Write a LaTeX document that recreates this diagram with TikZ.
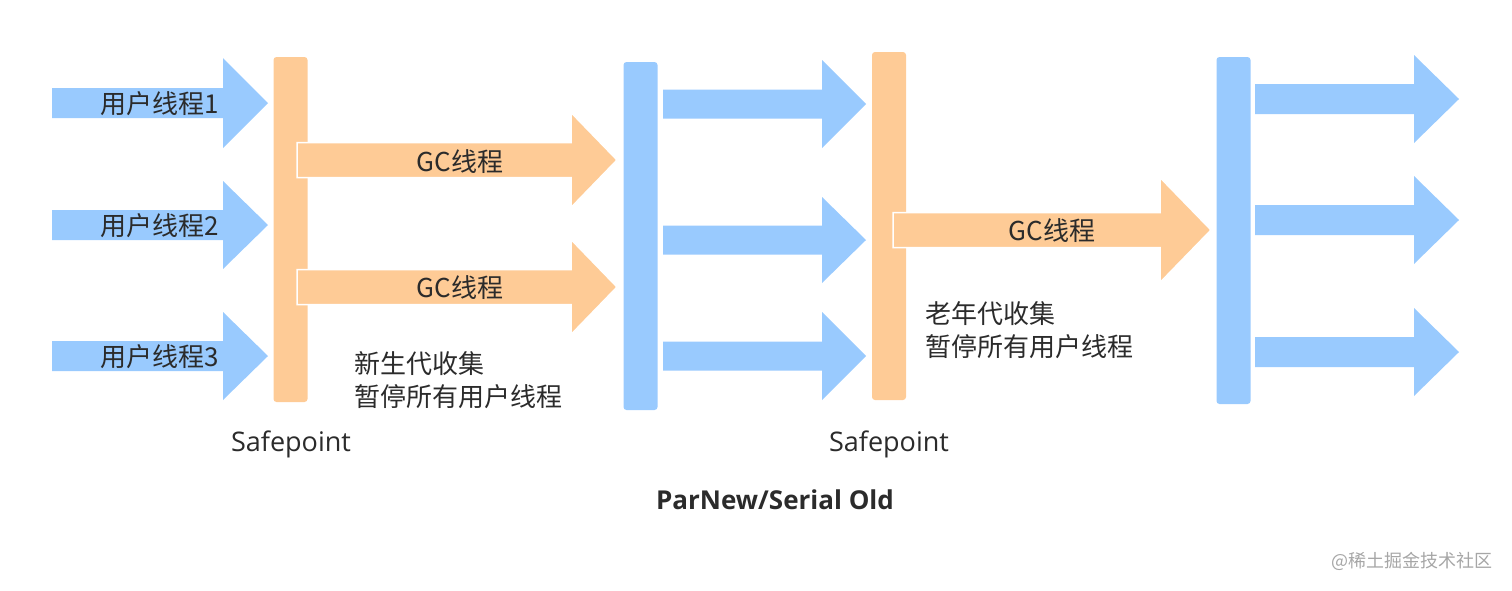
\documentclass[tikz,border=0pt]{standalone}
\usepackage{fontspec}
\setmainfont{Noto Sans CJK SC}
\newfontfamily\latinfont{Open Sans}
\usetikzlibrary{positioning}
\definecolor{tblue}{HTML}{99CAFE}
\definecolor{torange}{HTML}{FECB96}
\definecolor{tink}{HTML}{2B2B2B}
\definecolor{tmark}{HTML}{A6A6A6}
% fat arrow: colour, x start, x head base, x tip, y centre, shaft half, head half
\newcommand{\fatarrow}[7]{%
  \fill[#1] (#2,#5-#6) -- (#3,#5-#6) -- (#3,#5-#7) -- (#4,#5)
    -- (#3,#5+#7) -- (#3,#5+#6) -- (#2,#5+#6) -- cycle;}
\tikzset{
  bar/.style={fill=#1, draw=none, rounded corners=3pt, minimum width=34pt, inner sep=0pt},
  lbl/.style={font=\fontsize{26}{30}\selectfont, text=tink, inner sep=0pt},
  note/.style={font=\fontsize{26}{33}\selectfont, text=tink, align=left, inner sep=0pt, anchor=north west},
  sp/.style={font=\latinfont\fontsize{27}{30}\selectfont, text=tink, inner sep=0pt}
}
\begin{document}
\begin{tikzpicture}[x=1pt,y=-1pt]
  \useasboundingbox (0,0) rectangle (1512,590);
  % user threads before the first safepoint
  \fatarrow{tblue}{52}{223}{268}{103}{15}{45}
  \fatarrow{tblue}{52}{223}{268}{225}{15}{44}
  \fatarrow{tblue}{52}{223}{268}{356}{15}{44}
  \node[lbl,anchor=west] (u1) at (100,104) {用户线程1};
  \node[lbl,anchor=west] (u2) at (100,226) {用户线程2};
  \node[lbl,anchor=west] (u3) at (100,357) {用户线程3};
  % bars
  \node[bar=torange,minimum height=345pt] (sp1) at (290.5,229.5) {};
  \node[bar=tblue,minimum height=348pt] (gc1) at (640.5,236) {};
  \node[bar=torange,minimum height=348pt] (sp2) at (889,226) {};
  \node[bar=tblue,minimum height=347pt] (gc2) at (1233.5,230.5) {};
  % GC threads
  \begin{scope}[draw=white,line width=1.5pt]
    \fatarrow{torange,draw=white}{297}{571}{617}{160}{17.5}{47.5}
    \fatarrow{torange,draw=white}{297}{571}{617}{287}{17.5}{47.5}
    \fatarrow{torange,draw=white}{893}{1160}{1211}{230}{17.5}{52.5}
  \end{scope}
  \node[lbl] (g1) at (460,162) {GC线程};
  \node[lbl] (g2) at (460,288) {GC线程};
  \node[lbl] (g3) at (1052,231) {GC线程};
  % user threads between the collections
  \fatarrow{tblue}{663}{822}{866}{104}{14.5}{44}
  \fatarrow{tblue}{663}{822}{866}{240}{14.5}{43}
  \fatarrow{tblue}{663}{822}{866}{356}{14.5}{44}
  \fatarrow{tblue}{1255}{1414}{1459}{99}{15}{44}
  \fatarrow{tblue}{1255}{1414}{1459}{220}{15}{44}
  \fatarrow{tblue}{1255}{1414}{1459}{352}{15}{44}
  % notes
  \node[note] (n1) at (354,351) {新生代收集\\暂停所有用户线程};
  \node[note] (n2) at (925,301) {老年代收集\\暂停所有用户线程};
  \node[sp] (s1) at (291,444) {Safepoint};
  \node[sp] (s2) at (889,444) {Safepoint};
  \node[font=\latinfont\bfseries\fontsize{26}{30}\selectfont,text=tink,inner sep=0pt] (title) at (775,500) {ParNew/Serial Old};
  \node[font=\fontsize{18}{21}\selectfont,text=tmark,inner sep=0pt,anchor=east] (mark) at (1493,561) {@稀土掘金技术社区};
\end{tikzpicture}
\end{document}
